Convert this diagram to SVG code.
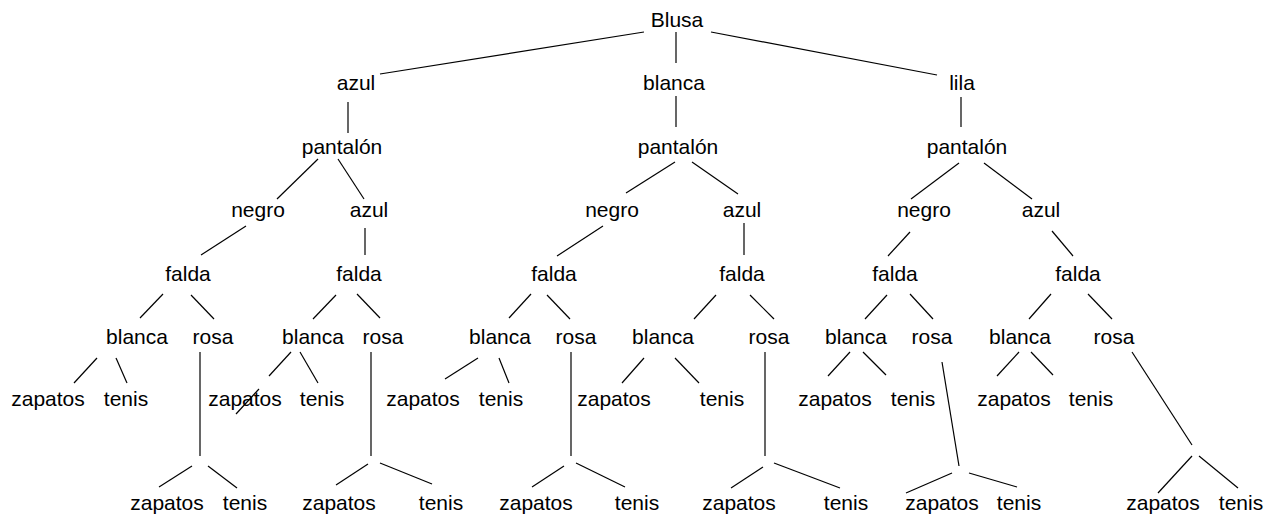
<svg xmlns="http://www.w3.org/2000/svg" width="1264" height="514" viewBox="0 0 1264 514">
<style>
text{font-family:"Liberation Sans",Arial,sans-serif;font-size:21px;fill:#000;text-anchor:middle}
line{stroke:#000;stroke-width:1.2}
</style>
<rect width="1264" height="514" fill="#fff"/>
<g id="connectors">
<line x1="380" y1="74" x2="644" y2="32"/>
<line x1="676" y1="32" x2="676" y2="63"/>
<line x1="711" y1="32" x2="937" y2="75"/>
<line x1="348" y1="102" x2="348" y2="133"/>
<line x1="676" y1="96" x2="676" y2="127"/>
<line x1="961" y1="97" x2="961" y2="127"/>
<line x1="318" y1="159" x2="277" y2="199"/>
<line x1="338" y1="159" x2="364" y2="199"/>
<line x1="675" y1="162" x2="626" y2="193"/>
<line x1="692" y1="162" x2="738" y2="194"/>
<line x1="959" y1="163" x2="911" y2="199"/>
<line x1="984" y1="163" x2="1032" y2="199"/>
<line x1="246" y1="226" x2="201" y2="255"/>
<line x1="365" y1="228" x2="365" y2="255"/>
<line x1="603" y1="226" x2="557" y2="256"/>
<line x1="744" y1="223" x2="744" y2="255"/>
<line x1="910" y1="232" x2="888" y2="256"/>
<line x1="1052" y1="231" x2="1073" y2="256"/>
<line x1="163" y1="294" x2="140" y2="318"/>
<line x1="191" y1="295" x2="214" y2="319"/>
<line x1="336" y1="295" x2="313" y2="319"/>
<line x1="357" y1="294" x2="380" y2="318"/>
<line x1="531" y1="294" x2="509" y2="318"/>
<line x1="547" y1="295" x2="570" y2="319"/>
<line x1="716" y1="295" x2="694" y2="319"/>
<line x1="750" y1="295" x2="774" y2="319"/>
<line x1="887" y1="295" x2="865" y2="319"/>
<line x1="910" y1="294" x2="933" y2="319"/>
<line x1="1051" y1="294" x2="1029" y2="319"/>
<line x1="1088" y1="294" x2="1112" y2="319"/>
<line x1="97" y1="358" x2="74" y2="383"/>
<line x1="116" y1="358" x2="127" y2="383"/>
<line x1="200" y1="352" x2="200" y2="456"/>
<line x1="192" y1="466" x2="159" y2="487"/>
<line x1="208" y1="466" x2="237" y2="488"/>
<line x1="291" y1="352" x2="269" y2="376"/>
<line x1="259" y1="389" x2="236" y2="414"/>
<line x1="300" y1="352" x2="318" y2="383"/>
<line x1="371" y1="352" x2="371" y2="456"/>
<line x1="368" y1="464" x2="336" y2="485"/>
<line x1="380" y1="463" x2="432" y2="484"/>
<line x1="478" y1="358" x2="445" y2="379"/>
<line x1="499" y1="358" x2="509" y2="383"/>
<line x1="571" y1="352" x2="571" y2="456"/>
<line x1="564" y1="466" x2="532" y2="487"/>
<line x1="576" y1="463" x2="625" y2="487"/>
<line x1="644" y1="358" x2="622" y2="383"/>
<line x1="675" y1="358" x2="699" y2="383"/>
<line x1="765" y1="352" x2="765" y2="456"/>
<line x1="763" y1="467" x2="731" y2="488"/>
<line x1="774" y1="463" x2="840" y2="488"/>
<line x1="850" y1="352" x2="828" y2="376"/>
<line x1="863" y1="352" x2="886" y2="375"/>
<line x1="942" y1="362" x2="959" y2="466"/>
<line x1="952" y1="473" x2="906" y2="493"/>
<line x1="969" y1="473" x2="1017" y2="487"/>
<line x1="1019" y1="352" x2="997" y2="376"/>
<line x1="1031" y1="352" x2="1053" y2="375"/>
<line x1="1132" y1="352" x2="1192" y2="445"/>
<line x1="1192" y1="456" x2="1158" y2="493"/>
<line x1="1199" y1="456" x2="1238" y2="488"/>
</g>
<g id="n0"><text x="677" y="27">Blusa</text></g>
<g id="n1"><text x="356" y="90">azul</text></g>
<g id="n2"><text x="674" y="90">blanca</text></g>
<g id="n3"><text x="962" y="90">lila</text></g>
<g id="n4"><text x="342" y="154">pantalón</text></g>
<g id="n5"><text x="678" y="154">pantalón</text></g>
<g id="n6"><text x="967" y="154">pantalón</text></g>
<g id="n7"><text x="258" y="217">negro</text></g>
<g id="n8"><text x="369" y="217">azul</text></g>
<g id="n9"><text x="612" y="217">negro</text></g>
<g id="n10"><text x="742" y="217">azul</text></g>
<g id="n11"><text x="924" y="217">negro</text></g>
<g id="n12"><text x="1041" y="217">azul</text></g>
<g id="n13"><text x="188" y="281">falda</text></g>
<g id="n14"><text x="359" y="281">falda</text></g>
<g id="n15"><text x="554" y="281">falda</text></g>
<g id="n16"><text x="742" y="281">falda</text></g>
<g id="n17"><text x="895" y="281">falda</text></g>
<g id="n18"><text x="1078" y="281">falda</text></g>
<g id="n19"><text x="137" y="344">blanca</text></g>
<g id="n20"><text x="213" y="344">rosa</text></g>
<g id="n21"><text x="313" y="344">blanca</text></g>
<g id="n22"><text x="383" y="344">rosa</text></g>
<g id="n23"><text x="500" y="344">blanca</text></g>
<g id="n24"><text x="576" y="344">rosa</text></g>
<g id="n25"><text x="663" y="344">blanca</text></g>
<g id="n26"><text x="769" y="344">rosa</text></g>
<g id="n27"><text x="856" y="344">blanca</text></g>
<g id="n28"><text x="932" y="344">rosa</text></g>
<g id="n29"><text x="1020" y="344">blanca</text></g>
<g id="n30"><text x="1114" y="344">rosa</text></g>
<g id="n31"><text x="48" y="406">zapatos</text></g>
<g id="n32"><text x="126" y="406">tenis</text></g>
<g id="n33"><text x="245" y="406">zapatos</text></g>
<g id="n34"><text x="322" y="406">tenis</text></g>
<g id="n35"><text x="423" y="406">zapatos</text></g>
<g id="n36"><text x="501" y="406">tenis</text></g>
<g id="n37"><text x="614" y="406">zapatos</text></g>
<g id="n38"><text x="722" y="406">tenis</text></g>
<g id="n39"><text x="835" y="406">zapatos</text></g>
<g id="n40"><text x="913" y="406">tenis</text></g>
<g id="n41"><text x="1014" y="406">zapatos</text></g>
<g id="n42"><text x="1091" y="406">tenis</text></g>
<g id="n43"><text x="167" y="510">zapatos</text></g>
<g id="n44"><text x="245" y="510">tenis</text></g>
<g id="n45"><text x="339" y="510">zapatos</text></g>
<g id="n46"><text x="441" y="510">tenis</text></g>
<g id="n47"><text x="536" y="510">zapatos</text></g>
<g id="n48"><text x="637" y="510">tenis</text></g>
<g id="n49"><text x="739" y="510">zapatos</text></g>
<g id="n50"><text x="846" y="510">tenis</text></g>
<g id="n51"><text x="942" y="510">zapatos</text></g>
<g id="n52"><text x="1019" y="510">tenis</text></g>
<g id="n53"><text x="1163" y="510">zapatos</text></g>
<g id="n54"><text x="1241" y="510">tenis</text></g>
</svg>
